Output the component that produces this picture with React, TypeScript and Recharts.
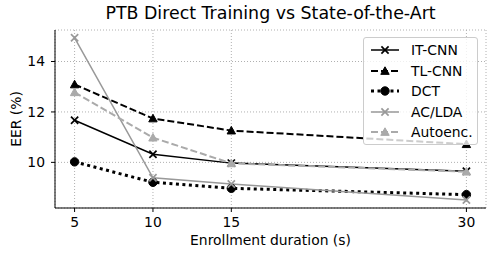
import React from 'react'
import { CartesianGrid, Line, LineChart, XAxis, YAxis } from 'recharts'

const durations = [5, 10, 15, 30]
const itCnn = [11.67, 10.32, 9.97, 9.65]
const tlCnn = [13.09, 11.74, 11.26, 10.72]
const dct = [10.02, 9.21, 8.97, 8.72]
const acLda = [14.94, 9.39, 9.14, 8.51]
const autoenc = [12.78, 10.98, 9.96, 9.63]
const yTicks = [10, 12, 14]

type Shape = 'x' | 'tri' | 'circle'
type Series = {
  key: string
  name: string
  values: number[]
  color: string
  width: number
  dash?: string
  shape: Shape
}

const series: Series[] = [
  { key: 'itCnn', name: 'IT-CNN', values: itCnn, color: '#000', width: 1.5, shape: 'x' },
  { key: 'tlCnn', name: 'TL-CNN', values: tlCnn, color: '#000', width: 2, dash: '7 3', shape: 'tri' },
  { key: 'dct', name: 'DCT', values: dct, color: '#000', width: 3, dash: '3 3.5', shape: 'circle' },
  { key: 'acLda', name: 'AC/LDA', values: acLda, color: '#999', width: 1.5, shape: 'x' },
  { key: 'autoenc', name: 'Autoenc.', values: autoenc, color: '#aaa', width: 2, dash: '7 3', shape: 'tri' },
]

const rows = durations.map((d, i) => {
  const row: Record<string, number> = { x: d }
  series.forEach((s) => {
    row[s.key] = s.values[i]
  })
  return row
})

const FONT = '"DejaVu Sans", sans-serif'
const W = 499
const H = 259

function Marker({ cx, cy, shape, color }: { cx: number; cy: number; shape: Shape; color: string }) {
  const r = 4.2
  if (shape === 'x') {
    const d = 3.6
    return (
      <g stroke={color} strokeWidth={1.7}>
        <line x1={cx - d} y1={cy - d} x2={cx + d} y2={cy + d} />
        <line x1={cx - d} y1={cy + d} x2={cx + d} y2={cy - d} />
      </g>
    )
  }
  if (shape === 'tri') {
    return (
      <polygon
        points={`${cx},${cy - r} ${cx - r},${cy + r * 0.8} ${cx + r},${cy + r * 0.8}`}
        fill={color}
        stroke={color}
      />
    )
  }
  return <circle cx={cx} cy={cy} r={r} fill={color} stroke={color} />
}

function LegendBox() {
  return (
    <div
      style={{
        position: 'absolute',
        left: 363,
        top: 37,
        width: 113,
        height: 106,
        border: '1px solid #ccc',
        borderRadius: 3,
        background: 'rgba(255,255,255,0.8)',
        fontFamily: FONT,
        fontSize: 13.9,
        color: '#000',
      }}
    >
      {series.map((s, i) => (
        <div
          key={s.key}
          style={{ position: 'absolute', left: 0, top: 2 + i * 20.5, height: 20, display: 'flex', alignItems: 'center' }}
        >
          <svg width={40} height={20} style={{ marginLeft: 6 }}>
            <line
              x1={1}
              y1={10}
              x2={29}
              y2={10}
              stroke={s.color}
              strokeWidth={s.width}
              strokeDasharray={s.dash}
            />
            <Marker cx={15} cy={10} shape={s.shape} color={s.color} />
          </svg>
          <span style={{ marginLeft: 1, whiteSpace: 'nowrap' }}>{s.name}</span>
        </div>
      ))}
    </div>
  )
}

export default function App() {
  const tick = { fill: '#000', fontSize: 13.9, fontFamily: FONT }
  return (
    <div style={{ position: 'absolute', left: 0, top: 0, width: W, height: H, background: '#fff' }}>
      <LineChart width={W} height={H} data={rows} margin={{ top: 30, right: 13, bottom: 0, left: 0 }}>
        <CartesianGrid stroke="#b0b0b0" strokeDasharray="1 2" />
        <XAxis
          dataKey="x"
          type="number"
          domain={[3.75, 31.25]}
          ticks={durations}
          allowDataOverflow
          height={51}
          tick={tick}
          tickSize={4}
          tickMargin={5}
          stroke="#000"
        />
        <XAxis
          xAxisId="top"
          orientation="top"
          dataKey="x"
          type="number"
          domain={[3.75, 31.25]}
          height={0}
          tick={false}
          tickLine={false}
          stroke="#000"
        />
        <YAxis
          type="number"
          domain={[8.19, 15.25]}
          ticks={yTicks}
          allowDataOverflow
          width={55}
          tick={tick}
          tickSize={4}
          tickMargin={6}
          stroke="#000"
        />
        <YAxis
          yAxisId="right"
          orientation="right"
          type="number"
          domain={[8.19, 15.25]}
          width={0}
          tick={false}
          tickLine={false}
          stroke="#000"
        />
        {series.map((s) => (
          <Line
            key={s.key}
            dataKey={s.key}
            name={s.name}
            type="linear"
            stroke={s.color}
            strokeWidth={s.width}
            strokeDasharray={s.dash}
            isAnimationActive={false}
            dot={(p: any) => (
              <Marker key={`${s.key}-${p.index}`} cx={p.cx} cy={p.cy} shape={s.shape} color={s.color} />
            )}
            activeDot={false}
          />
        ))}
      </LineChart>
      <div
        style={{
          position: 'absolute',
          left: 55,
          width: 431,
          top: 3,
          textAlign: 'center',
          fontFamily: FONT,
          fontSize: 17.4,
          color: '#000',
        }}
      >
        PTB Direct Training vs State-of-the-Art
      </div>
      <div
        style={{
          position: 'absolute',
          left: 55,
          width: 431,
          top: 232,
          textAlign: 'center',
          fontFamily: FONT,
          fontSize: 13.9,
          color: '#000',
        }}
      >
        Enrollment duration (s)
      </div>
      <div
        style={{
          position: 'absolute',
          left: 16,
          top: 119,
          transform: 'translate(-50%, -50%) rotate(-90deg)',
          whiteSpace: 'nowrap',
          fontFamily: FONT,
          fontSize: 13.9,
          color: '#000',
        }}
      >
        EER (%)
      </div>
      <LegendBox />
    </div>
  )
}
